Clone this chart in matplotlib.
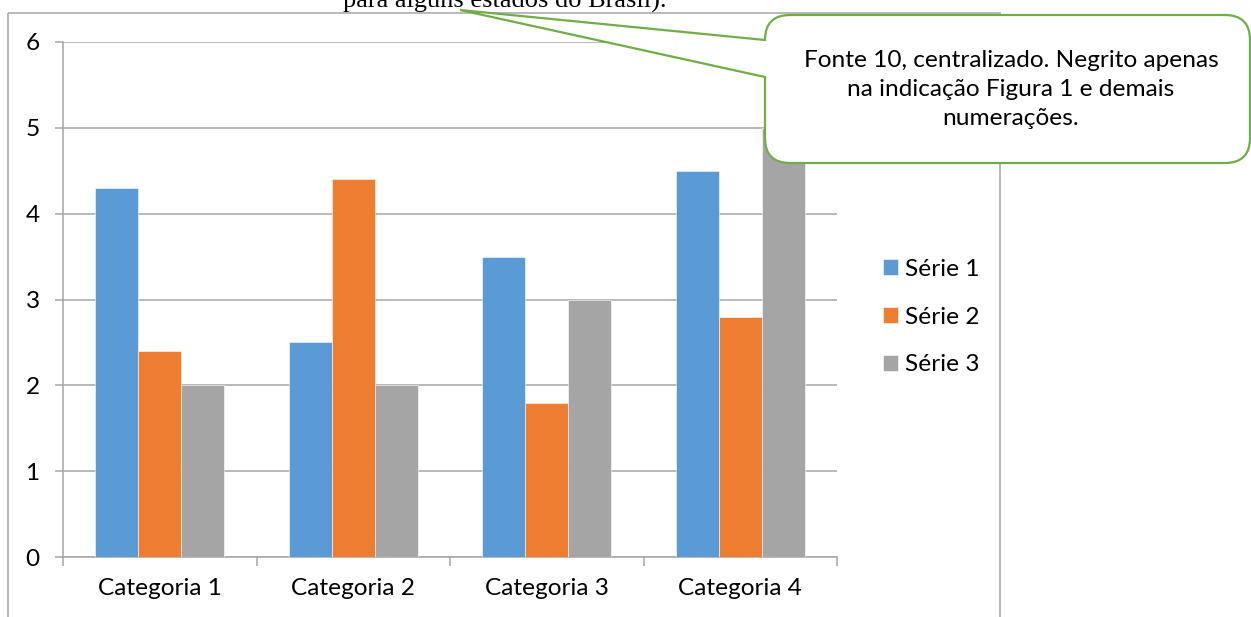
import matplotlib
matplotlib.use('Agg')
import matplotlib.pyplot as plt
from matplotlib.path import Path
from matplotlib.patches import PathPatch, Rectangle
import numpy as np

categories = ["Categoria 1", "Categoria 2", "Categoria 3", "Categoria 4"]
series_names = ["Série 1", "Série 2", "Série 3"]
serie1 = [4.3, 2.5, 3.5, 4.5]
serie2 = [2.4, 4.4, 1.8, 2.8]
serie3 = [2.0, 2.0, 3.0, 5.0]
colors = ["#5B9BD5", "#ED7D31", "#A5A5A5"]

caption_tail = "para alguns estados do Brasil)."
callout_lines = ["Fonte 10, centralizado. Negrito apenas",
                 "na indicação Figura 1 e demais",
                 "numerações."]

W, H = 1251, 617
plt.rcParams['font.family'] = ['Lato', 'DejaVu Sans']
grid_col = '#A6A6A6'
fs = 17.6

fig = plt.figure(figsize=(W / 100, H / 100), dpi=100)
fig.patch.set_facecolor('white')

# plot area in pixel coords
x0, x1, ytop, ybot = 63, 837, 42, 557
ax = fig.add_axes([x0 / W, 1 - ybot / H, (x1 - x0) / W, (ybot - ytop) / H])

x = np.arange(len(categories))
bw = 0.222
handles = []
for i, vals in enumerate([serie1, serie2, serie3]):
    b = ax.bar(x + (i - 1) * bw, vals, width=bw, color=colors[i],
               edgecolor='white', linewidth=0.4, label=series_names[i], zorder=3)
    handles.append(b)

ax.set_xlim(-0.5, len(categories) - 0.5)
ax.set_ylim(0, 6)
ax.set_yticks(range(7))
ax.yaxis.grid(True, color=grid_col, linewidth=1.1, zorder=0)
ax.set_axisbelow(True)
for s in ['top', 'right']:
    ax.spines[s].set_visible(False)
for s in ['left', 'bottom']:
    ax.spines[s].set_color(grid_col)
    ax.spines[s].set_linewidth(1.1)

ax.set_xticks(x)
ax.set_xticklabels(categories)
ax.set_xticks(np.arange(-0.5, len(categories)), minor=True)
ax.tick_params(axis='x', which='major', length=0, pad=15, labelsize=fs)
ax.tick_params(axis='x', which='minor', length=6.5, width=1.1, color=grid_col, direction='out')
ax.tick_params(axis='y', length=5.8, width=1.1, color=grid_col, direction='out',
               pad=11, labelsize=fs)

fig.legend(handles=handles, labels=series_names, loc='center left',
           bbox_to_anchor=(861 / W, 1 - 317 / H), frameon=False,
           fontsize=fs, handlelength=0.6, handleheight=0.6,
           handletextpad=0.3, labelspacing=1.1)

# overlay for frame, caption and callout
ov = fig.add_axes([0, 0, 1, 1], zorder=5)
ov.set_xlim(0, W)
ov.set_ylim(H, 0)
ov.axis('off')
ov.patch.set_alpha(0)

ov.add_patch(Rectangle((8, 13), 992, 620, fill=False, edgecolor=grid_col,
                       linewidth=1.1, zorder=1))

ov.text(505, 8, caption_tail, ha='center', va='baseline',
        family='Liberation Serif', fontsize=19, color='black', zorder=2)

L, R, T, B, r = 765, 1250, 15, 163, 25
tip = (460, 10)
verts = [(L + r, T), (R - r, T), (R, T), (R, T + r), (R, B - r), (R, B), (R - r, B),
         (L + r, B), (L, B), (L, B - r), (L, 77), tip, (L, 40), (L, T), (L + r, T),
         (L + r, T)]
codes = [Path.MOVETO, Path.LINETO, Path.CURVE3, Path.CURVE3, Path.LINETO, Path.CURVE3,
         Path.CURVE3, Path.LINETO, Path.CURVE3, Path.CURVE3, Path.LINETO, Path.LINETO,
         Path.LINETO, Path.CURVE3, Path.CURVE3, Path.CLOSEPOLY]
ov.add_patch(PathPatch(Path(verts, codes), facecolor='white', edgecolor='#70AD47',
                       linewidth=1.6, zorder=3, clip_on=False))

for k, line in enumerate(callout_lines):
    ov.text(1011, 67 + k * 29, line, ha='center', va='baseline',
            fontsize=fs, color='black', zorder=4)

fig.savefig('out.png', dpi=100)
